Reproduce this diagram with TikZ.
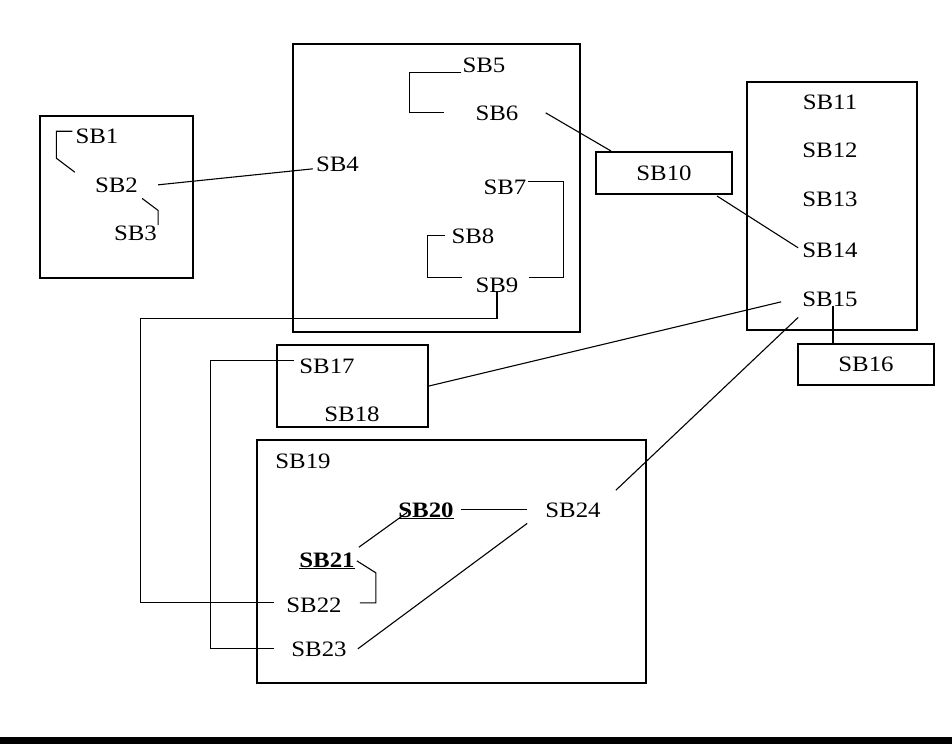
\documentclass[tikz,border=0pt]{standalone}
\usepackage{fontspec}
\setmainfont{Liberation Serif}[FakeStretch=1.13]
\usetikzlibrary{calc}
\begin{document}
\begin{tikzpicture}[x=1pt, y=-1pt,
    lbl/.style={inner sep=0pt, anchor=base, font=\fontsize{22}{26}\selectfont},
    blk/.style={draw, line width=2pt, inner sep=0pt},
    tagbox/.style={draw, line width=2pt, inner sep=0pt, font=\fontsize{22}{26}\selectfont},
    link/.style={line width=1.1pt}]
  \fill[white] (0,0) rectangle (952,744); \useasboundingbox (0,0) rectangle (952,744);
  % frames
  \node[blk, minimum width=153pt, minimum height=162pt] (boxA) at (116.5,197) {};
  \node[blk, minimum width=287pt, minimum height=288pt] (boxB) at (436.5,188) {};
  \node[blk, minimum width=170pt, minimum height=248pt] (boxC) at (832,206) {};
  \node[blk, minimum width=151pt, minimum height=82pt]  (boxD) at (352.5,386) {};
  \node[blk, minimum width=389pt, minimum height=243pt] (boxE) at (451.5,561.5) {};
  \node[tagbox, minimum width=136pt, minimum height=42pt] (sb10) at (664,173) {SB10};
  \node[tagbox, minimum width=136pt, minimum height=41pt] (sb16) at (866,364.5) {SB16};
  % labels
  \node[lbl] (sb1) at (97,143) {SB1};    \node[lbl] (sb2) at (116.5,192) {SB2};
  \node[lbl] (sb3) at (135.5,240) {SB3}; \node[lbl] (sb4) at (337.5,171) {SB4};
  \node[lbl] (sb5) at (484,72) {SB5};    \node[lbl] (sb6) at (497,120) {SB6};
  \node[lbl] (sb7) at (505,194) {SB7};   \node[lbl] (sb8) at (473,243) {SB8};
  \node[lbl] (sb9) at (497,292) {SB9};
  \node[lbl] (sb11) at (830,109) {SB11}; \node[lbl] (sb12) at (830,157.5) {SB12};
  \node[lbl] (sb13) at (830,206) {SB13}; \node[lbl] (sb14) at (830,257) {SB14};
  \node[lbl] (sb15) at (830,306) {SB15};
  \node[lbl] (sb17) at (327,373) {SB17}; \node[lbl] (sb18) at (352,421) {SB18};
  \node[lbl] (sb19) at (303,468) {SB19};
  \node[lbl] (sb20) at (426,517) {\underline{\textbf{SB20}}};
  \node[lbl] (sb21) at (327,567) {\underline{\textbf{SB21}}};
  \node[lbl] (sb22) at (314,612) {SB22}; \node[lbl] (sb23) at (319,656) {SB23};
  \node[lbl] (sb24) at (573,517) {SB24};
  \coordinate (k15) at ($(sb15.south)+(3,0)$);
  % links
  \draw[link] ($(sb1.north west)+(-3,3)$) -- ++(-16,0) -- ++(0,27) -- ($(sb2.north west)+(-20,-5)$);
  \draw[link] ($(sb2.south east)+(4,6)$) -- ++(16,12) -- ($(sb3.north east)+(1,0)$);
  \draw[link] ($(sb2.east)+(20,0)$) -- ($(sb4.west)+(-3,5)$);
  \draw[link] ($(sb5.south west)+(-1,0)$) -- ++(-52,0) |- ($(sb6.west)+(-31,0)$);
  \draw[link] ($(sb6.east)+(27,0)$) -- ($(sb10.north west)+(16,0)$);
  \draw[link] ($(sb7.north east)+(1,2)$) -- ++(36,0) |- ($(sb9.north east)+(10,0)$);
  \draw[link] ($(sb8.west)+(-6,0)$) -- ++(-18,0) |- ($(sb9.north west)+(-13,0)$);
  \draw[link] (sb9.south) -- ++(0,26) -| ($(sb22.west)+(-146,-2)$) -- ($(sb22.west)+(-12,-2)$);
  \draw[link] ($(sb10.south east)+(-16,1)$) -- ($(sb14.west)+(-4,-2)$);
  \draw[link] (k15) -- (k15 |- sb16.north);
  \draw[link] ($(sb15.west)+(-21,3)$) -- (boxD.east);
  \draw[link] ($(sb15.south west)+(-4,11)$) -- ($(sb24.north east)+(15,-12)$);
  \draw[link] ($(sb17.west)+(-5,-5)$) -- ++(-84,0) |- ($(sb23.west)+(-17,0)$);
  \draw[link] ($(sb20.east)+(7,-1)$) -- ($(sb20.east -| sb24.west)+(-18,-1)$);
  \draw[link] ($(sb21.north east)+(4,-5)$) -- ($(sb20.south west)+(9,-7)$);
  \draw[link] ($(sb21.east)+(2,0)$) -- ++(19,12) |- ($(sb22.east)+(18,-2)$);
  \draw[link] ($(sb23.east)+(11,0)$) -- ($(sb24.south west)+(-18,6)$);
  \fill (0,737) rectangle (952,744);
\end{tikzpicture}
\end{document}
